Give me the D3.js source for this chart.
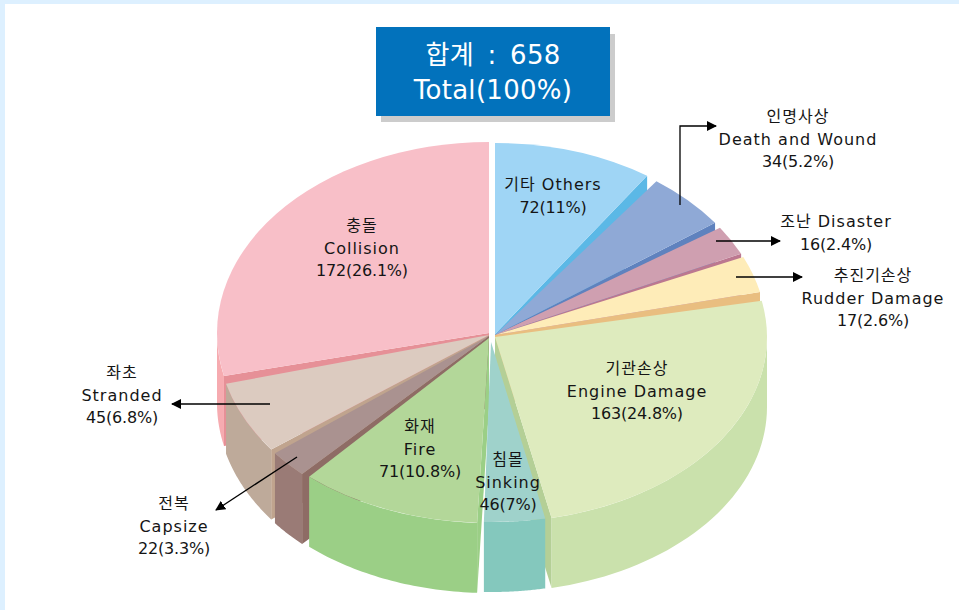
<!DOCTYPE html>
<html lang="ko"><head><meta charset="utf-8">
<script src="https://cdn.jsdelivr.net/npm/d3@7"></script>
<style>html,body{margin:0;padding:0;background:#fff}svg{display:block}
text{font-family:"DejaVu Sans","Noto Sans CJK KR",sans-serif;fill:#151515;text-anchor:middle}</style>
</head><body><div id="c"></div>
<script>
// Data, as printed on the chart
const namesKo = ["기타","인명사상","조난","추진기손상","기관손상","침몰","화재","전복","좌초","충돌"];
const namesEn = ["Others","Death and Wound","Disaster","Rudder Damage","Engine Damage","Sinking","Fire","Capsize","Stranded","Collision"];
const counts = [72,34,16,17,163,46,71,22,45,172];
const percents = ["11%","5.2%","2.4%","2.6%","24.8%","7%","10.8%","3.3%","6.8%","26.1%"];
const totalCount = 658;
// The reference's wedges are not proportional to the counts: these are the wedge sweeps (degrees)
const drawnSweep = [34,17.6,9,11.1,89.3,13,38.9,8.5,22,103];
const drawnGap = [2.4,1.8,1.1,1.7,0.5,1,2,1.3,1.8,0];

// Layout and style
const W=959,H=610,cx=492,cy=335,rx=272,depth=70;
const radiusY=[191,191,191,191,185,180,185,190,191,191];
const shift=[[3,-1],[3,0],[3,0],[3,0],[3,2],[-1,7],[-3,3],[-3,1],[-3,0],[-3,-2]];
const topCol=["#9FD5F5","#8FA9D6","#CF9FB0","#FEECB8","#DEEBBE","#9FD2CB","#B3D799","#AA9290","#DCCBC0","#F8BFC8"];
const sideCol=["#5BB8E6","#5F82BE","#BC7890","#E9BE80","#B4CF96","#84C8BD","#9BCF86","#8E6C65","#C0A48E","#E69097"];
const rimCol=["#5BB8E6","#5F82BE","#BC7890","#E9BE80","#CAE1AC","#84C8BD","#9BCF86","#9A7B76","#BEAA9A","#F6ABB0"];
const paintOrder=[0,1,2,3,9,8,7,6,4,5];
const labelAt=[[553,184],[798,116],[836,221],[873,275],[637,368],[508,459],[420,426],[174,503],[122,372],[362,225]];
const leaders=[
 [[680,205],[680,126],[716,126]],
 [[716,241],[780,241]],
 [[736,277],[802,277]],
 [[270,404],[172,404]],
 [[297,457],[216,510]]
];

const svg=d3.select("#c").append("svg").attr("width",W).attr("height",H);
svg.append("rect").attr("width",W).attr("height",H).attr("fill","#DDF0FF");
svg.append("rect").attr("x",5).attr("y",4).attr("width",W).attr("height",H).attr("fill","#fff");

const arcs=d3.pie().sort(null).value((d,i)=>drawnSweep[i]+drawnGap[i])(counts);
const deg=Math.PI/180;
const line=d3.line();
const pt=(a,i,dz=0)=>[cx+shift[i][0]+rx*Math.sin(a),cy+shift[i][1]-radiusY[i]*Math.cos(a)+dz];
const topArc=d3.arc().innerRadius(0).outerRadius(rx);

paintOrder.forEach(i=>{
  const a0=arcs[i].startAngle,a1=arcs[i].endAngle-drawnGap[i]*deg;
  const g=svg.append("g");
  const c=[cx+shift[i][0],cy+shift[i][1]];
  const edge=(a1<=Math.PI)?a1:a0;
  if(a1<=Math.PI||a0>=Math.PI){
    const t=pt(edge,i);
    g.append("path").attr("fill",sideCol[i])
     .attr("d",line([c,t,[t[0],t[1]+depth],[c[0],c[1]+depth]])+"Z");
  }
  const from=Math.max(a0,Math.PI/2),to=Math.min(a1,1.5*Math.PI);
  if(to>from){
    const steps=d3.range(0,41).map(k=>from+(to-from)*k/40);
    const rim=steps.map(a=>pt(a,i)).concat(steps.slice().reverse().map(a=>pt(a,i,depth)));
    g.append("path").attr("fill",rimCol[i]).attr("d",line(rim)+"Z");
  }
  g.append("path").attr("fill",topCol[i])
   .attr("transform",`translate(${c[0]},${c[1]}) scale(1,${radiusY[i]/rx})`)
   .attr("d",topArc({startAngle:a0,endAngle:a1}));
});

// Leaders
const defs=svg.append("defs");
defs.append("marker").attr("id","ah").attr("viewBox","0 0 10 10").attr("refX",9).attr("refY",5)
 .attr("markerWidth",10).attr("markerHeight",10).attr("markerUnits","userSpaceOnUse").attr("orient","auto")
 .append("path").attr("d","M0,0L10,5L0,10Z").attr("fill","#000");
leaders.forEach(p=>svg.append("path").attr("d",line(p)).attr("fill","none").attr("stroke","#000")
 .attr("stroke-width",1.3).attr("marker-end","url(#ah)"));

// Labels
const oneLine=new Set([0,2]);
const fs=16,ls=22.7;
counts.forEach((v,i)=>{
  const [x,y]=labelAt[i];
  const lines=oneLine.has(i)?[namesKo[i]+" "+namesEn[i],`${v}(${percents[i]})`]
    :[namesKo[i],namesEn[i],`${v}(${percents[i]})`];
  const t=svg.append("text").attr("font-size",fs);
  lines.forEach((s,k)=>t.append("tspan").attr("x",x).attr("y",y+6+k*ls)
    .style("letter-spacing",k===lines.length-1?"-0.2px":"1px").text(s));
});

// Title box
svg.append("rect").attr("x",381).attr("y",34).attr("width",234).attr("height",88).attr("fill","#CCCCCC");
svg.append("rect").attr("x",376).attr("y",27).attr("width",234).attr("height",89).attr("fill","#0272BC");
const tt=svg.append("text").attr("font-size",26).style("fill","#fff").style("letter-spacing","0.3px");
tt.append("tspan").attr("x",493).attr("y",64).style("word-spacing","5px").text(`합계 : ${totalCount}`);
tt.append("tspan").attr("x",493).attr("y",99).text("Total(100%)");
</script></body></html>
